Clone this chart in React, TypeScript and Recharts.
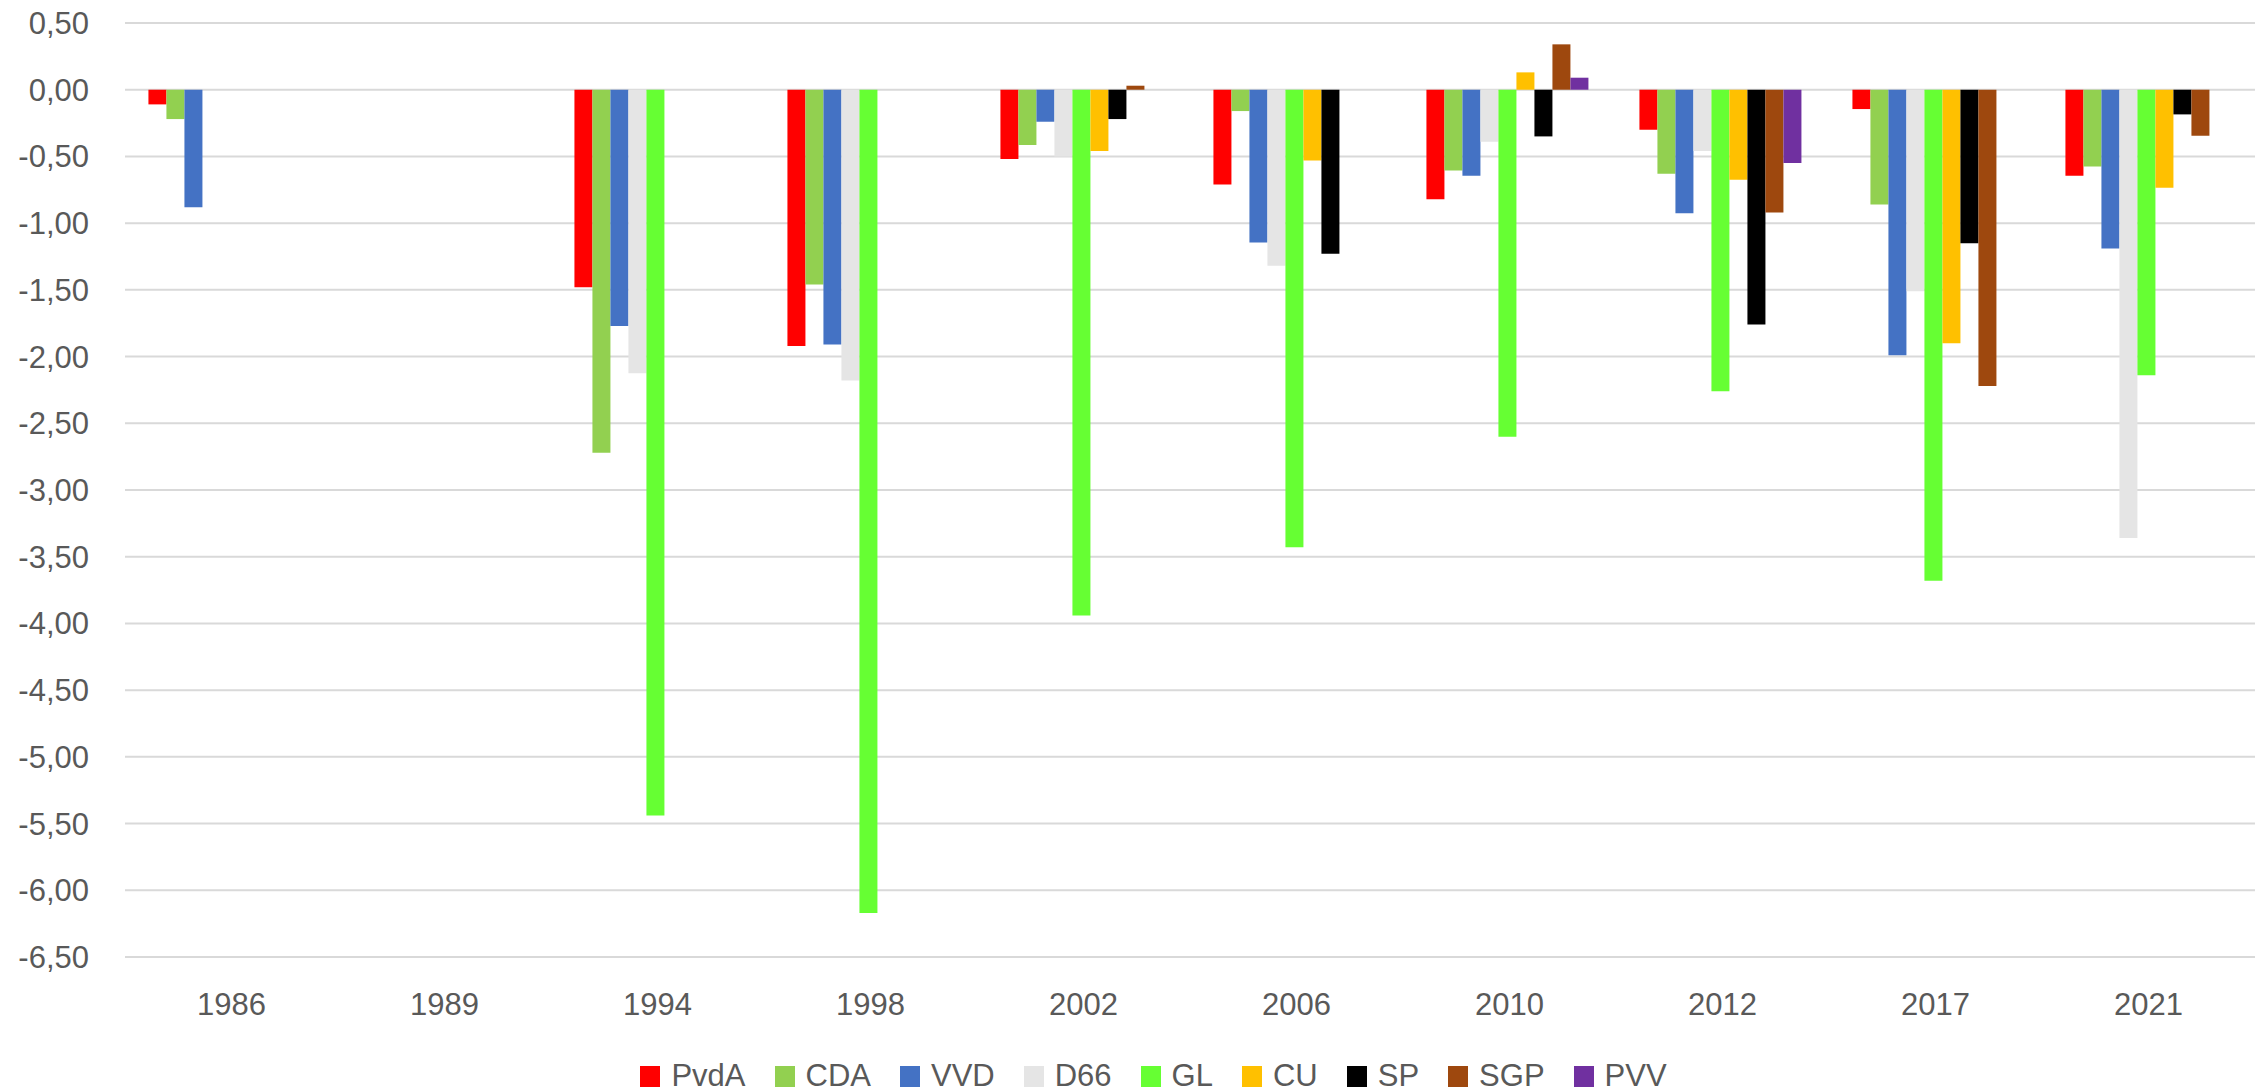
import React from 'react';
import { BarChart, Bar, XAxis, YAxis, CartesianGrid, Legend } from 'recharts';

const categories = ['1986', '1989', '1994', '1998', '2002', '2006', '2010', '2012', '2017', '2021'];

const pvdaValues = [-0.11, null, -1.48, -1.92, -0.52, -0.71, -0.82, -0.3, -0.145, -0.645];
const cdaValues = [-0.22, null, -2.72, -1.46, -0.415, -0.16, -0.605, -0.63, -0.86, -0.575];
const vvdValues = [-0.88, null, -1.77, -1.91, -0.24, -1.145, -0.645, -0.925, -1.99, -1.19];
const d66Values = [null, null, -2.125, -2.18, -0.5, -1.32, -0.39, -0.46, -1.51, -3.36];
const glValues = [null, null, -5.44, -6.17, -3.94, -3.43, -2.6, -2.26, -3.68, -2.14];
const cuValues = [null, null, null, null, -0.46, -0.53, 0.13, -0.675, -1.9, -0.735];
const spValues = [null, null, null, null, -0.22, -1.23, -0.35, -1.76, -1.15, -0.185];
const sgpValues = [null, null, null, null, 0.03, null, 0.34, -0.92, -2.22, -0.345];
const pvvValues = [null, null, null, null, null, null, 0.09, -0.55, null, null];

const yTicks = [0.5, 0, -0.5, -1, -1.5, -2, -2.5, -3, -3.5, -4, -4.5, -5, -5.5, -6, -6.5];

const series = [
  { key: 'PvdA', values: pvdaValues, color: '#FF0000' },
  { key: 'CDA', values: cdaValues, color: '#92D050' },
  { key: 'VVD', values: vvdValues, color: '#4472C4' },
  { key: 'D66', values: d66Values, color: '#E5E5E5' },
  { key: 'GL', values: glValues, color: '#66FF33' },
  { key: 'CU', values: cuValues, color: '#FFC000' },
  { key: 'SP', values: spValues, color: '#000000' },
  { key: 'SGP', values: sgpValues, color: '#9E480E' },
  { key: 'PVV', values: pvvValues, color: '#7030A0' },
];

const data = categories.map((cat, i) => {
  const row: Record<string, any> = { year: cat };
  series.forEach((s) => {
    row[s.key] = s.values[i];
  });
  return row;
});

const FONT = '"Liberation Sans", Arial, sans-serif';
const TEXT_COLOR = '#595959';

const fmt = (v: number) => v.toFixed(2).replace('.', ',');

const LegendContent = () => (
  <div
    style={{
      display: 'flex',
      justifyContent: 'center',
      alignItems: 'center',
      fontFamily: FONT,
      fontSize: 31,
      color: TEXT_COLOR,
      width: '100%',
    }}
  >
    {series.map((s, i) => (
      <div
        key={s.key}
        style={{
          display: 'flex',
          alignItems: 'center',
          marginRight: i === series.length - 1 ? 0 : 29,
        }}
      >
        <div style={{ width: 20, height: 21, background: s.color }} />
        <span style={{ marginLeft: 11, lineHeight: '32px' }}>{s.key}</span>
      </div>
    ))}
  </div>
);

export default function App() {
  return (
    <div style={{ position: 'absolute', left: 0, top: 0, width: 2267, height: 1091, background: '#fff' }}>
      <BarChart
        width={2267}
        height={1091}
        data={data}
        margin={{ top: 23, right: 12, left: 0, bottom: 74 }}
        barCategoryGap="11%"
        barGap={0}
      >
        <CartesianGrid horizontal vertical={false} stroke="#D9D9D9" strokeWidth={2} />
        <XAxis
          dataKey="year"
          axisLine={false}
          tickLine={false}
          tickSize={0}
          tickMargin={36}
          height={60}
          interval={0}
          tick={{ fill: TEXT_COLOR, fontSize: 31, fontFamily: FONT }}
        />
        <YAxis
          domain={[-6.5, 0.5]}
          ticks={yTicks}
          interval={0}
          width={125}
          axisLine={false}
          tickLine={false}
          tickSize={0}
          tickMargin={36}
          tickFormatter={fmt}
          tick={{ fill: TEXT_COLOR, fontSize: 31, fontFamily: FONT }}
        />
        <Legend
          layout="horizontal"
          verticalAlign="middle"
          align="center"
          content={<LegendContent />}
          wrapperStyle={{ position: 'absolute', top: 1060, left: 0, width: 2307, height: 32 }}
        />
        {series.map((s) => (
          <Bar key={s.key} dataKey={s.key} fill={s.color} isAnimationActive={false} />
        ))}
      </BarChart>
    </div>
  );
}
